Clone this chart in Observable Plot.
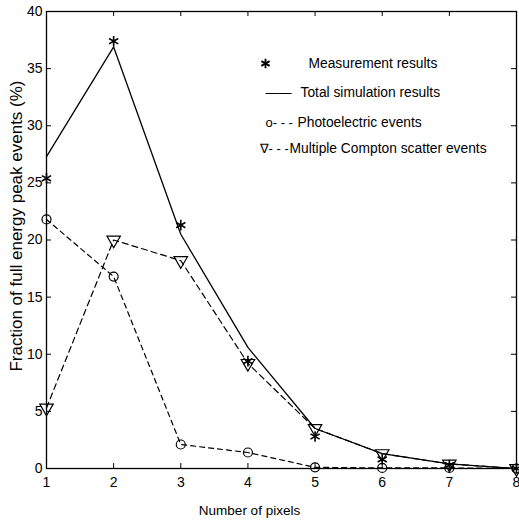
<!DOCTYPE html>
<html><head><meta charset="utf-8">
<script src="https://cdn.jsdelivr.net/npm/d3@7"></script>
<script src="https://cdn.jsdelivr.net/npm/@observablehq/plot@0.6"></script>
<style>body{margin:0;background:#fff}</style>
</head><body><div id="chart"></div>
<script>
const pixels = [1, 2, 3, 4, 5, 6, 7, 8];
const measurement = [25.4, 37.4, 21.3, 9.4, 2.8, 0.8, 0.3, 0.0];
const totalSim = [27.3, 36.9, 20.5, 10.6, 3.5, 1.3, 0.4, 0.0];
const photoelectric = [21.8, 16.8, 2.1, 1.4, 0.1, 0.05, 0.05, 0.0];
const compton = [5.3, 20.0, 18.2, 9.2, 3.5, 1.3, 0.4, 0.0];
const xTicks = [1, 2, 3, 4, 5, 6, 7, 8];
const yTicks = [0, 5, 10, 15, 20, 25, 30, 35, 40];
const xLabel = "Number of pixels";
const yLabel = "Fraction of full energy peak events (%)";
const legendLabels = ["Measurement results", "Total simulation results", "Photoelectric events", "Multiple Compton scatter events"];
const legendKeys = ["", "\u2014\u2014", "o- - -", "\u2207- - -"];

const rows = pixels.map((p, i) => ({p, meas: measurement[i], total: totalSim[i], photo: photoelectric[i], compton: compton[i]}));
const font = "'Liberation Sans',Arial,Helvetica,sans-serif";
const W = 519, H = 525, mL = 46, mR = 3, mT = 11, mB = 57;
const fw = W - mL - mR, fh = H - mT - mB, tk = 5;

const legendY = [52, 81, 111, 137];
const keyX = [219, 219, 219, 213];
const textX = [262, 254, 251, 243];

const legendMarks = [
  Plot.dot([0], {frameAnchor: "top-left", dx: keyX[0], dy: legendY[0], symbol: "asterisk", r: 4.5, stroke: "#000", strokeWidth: 1.8}),
  ...legendKeys.slice(1).map((k, i) => Plot.text([k], {frameAnchor: "top-left", text: d => d, dx: keyX[i + 1], dy: legendY[i + 1], textAnchor: "start", lineAnchor: "middle", fontSize: 13, fill: "#000"})),
  ...legendLabels.map((l, i) => Plot.text([l], {frameAnchor: "top-left", text: d => d, dx: textX[i], dy: legendY[i], textAnchor: "start", lineAnchor: "middle", fontSize: 13.8, fill: "#000"}))
];

const chart = Plot.plot({
  width: W, height: H, marginLeft: mL, marginRight: mR, marginTop: mT, marginBottom: mB,
  style: {fontFamily: font, fontSize: "14px", background: "#fff", color: "#000"},
  x: {domain: [1, 8]},
  y: {domain: [0, 40]},
  marks: [
    Plot.frame({stroke: "#000", strokeWidth: 1.3}),
    Plot.axisX({ticks: xTicks, tickSize: 0, tickPadding: 9, fontSize: 14, tickFormat: d => String(d), label: null}),
    Plot.axisY({ticks: yTicks, tickSize: 0, tickPadding: 4, fontSize: 14, tickFormat: d => String(d), label: null}),
    Plot.text([xLabel], {frameAnchor: "bottom", text: d => d, dx: -32, dy: 46, textAnchor: "middle", fontSize: 13.5, fill: "#000"}),
    Plot.text([yLabel], {frameAnchor: "left", text: d => d, dx: -30, dy: -14, rotate: -90, textAnchor: "middle", lineAnchor: "middle", fontSize: 17, fill: "#000"}),
    Plot.tickX(xTicks, {x: d => d, insetTop: fh - tk, stroke: "#000"}),
    Plot.tickX(xTicks, {x: d => d, insetBottom: fh - tk, stroke: "#000"}),
    Plot.tickY(yTicks, {y: d => d, insetRight: fw - tk, stroke: "#000"}),
    Plot.tickY(yTicks, {y: d => d, insetLeft: fw - tk, stroke: "#000"}),
    Plot.line(rows, {x: "p", y: "total", stroke: "#000", strokeWidth: 1.3}),
    Plot.line(rows, {x: "p", y: "photo", stroke: "#000", strokeWidth: 1.2, strokeDasharray: "5,4"}),
    Plot.line(rows, {x: "p", y: "compton", stroke: "#000", strokeWidth: 1.2, strokeDasharray: "6,4"}),
    Plot.dot(rows, {x: "p", y: "photo", symbol: "circle", r: 4.5, stroke: "#000", fill: "none", strokeWidth: 1.2}),
    Plot.dot(rows, {x: "p", y: "compton", symbol: "triangle", rotate: 180, r: 5, stroke: "#000", fill: "none", strokeWidth: 1.2}),
    Plot.dot(rows, {x: "p", y: "meas", symbol: "asterisk", r: 5, stroke: "#000", strokeWidth: 1.6}),
    ...legendMarks
  ]
});
document.getElementById("chart").append(chart);
</script>
</body></html>
